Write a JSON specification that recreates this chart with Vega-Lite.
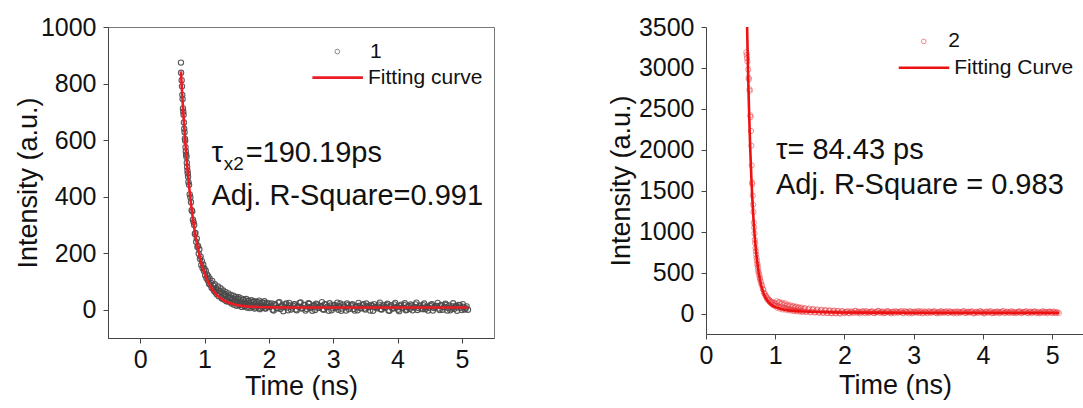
{
  "$schema": "https://vega.github.io/schema/vega-lite/v6.json",
  "padding": {"left": 13, "top": 14, "right": 0, "bottom": 0},
  "bounds": "flush",
  "spacing": 212,
  "config": {
    "font": "Liberation Sans",
    "view": {"stroke": "#777", "strokeWidth": 1},
    "axis": {
      "grid": false,
      "domainColor": "#444",
      "tickColor": "#444",
      "tickSize": 5,
      "labelFontSize": 25,
      "titleFontSize": 27,
      "labelColor": "#111",
      "titleColor": "#111",
      "titleFontWeight": "normal",
      "labelOverlap": false,
      "labelFlush": false
    }
  },
  "datasets": {
    "left_pts": [
      {"t":0.634,"v":874},{"t":0.636,"v":838},{"t":0.645,"v":812},{"t":0.65,"v":790},{"t":0.655,"v":760},{"t":0.66,"v":745},{"t":0.665,"v":712},{"t":0.67,"v":700},{"t":0.675,"v":690},{"t":0.68,"v":662},{"t":0.685,"v":640},{"t":0.69,"v":628},{"t":0.695,"v":605},{"t":0.7,"v":598},{"t":0.705,"v":575},{"t":0.71,"v":560},{"t":0.715,"v":548},{"t":0.72,"v":540},{"t":0.725,"v":520},{"t":0.73,"v":505},{"t":0.735,"v":492},{"t":0.74,"v":482},{"t":0.745,"v":470},{"t":0.75,"v":452},{"t":0.76,"v":442},{"t":0.77,"v":408},{"t":0.78,"v":398},{"t":0.79,"v":380},{"t":0.8,"v":352},{"t":0.81,"v":348},{"t":0.82,"v":318},{"t":0.83,"v":310},{"t":0.84,"v":300},{"t":0.85,"v":268},{"t":0.86,"v":272},{"t":0.87,"v":240},{"t":0.88,"v":252},{"t":0.89,"v":222},{"t":0.9,"v":226},{"t":0.91,"v":198},{"t":0.92,"v":214},{"t":0.93,"v":180},{"t":0.94,"v":188},{"t":0.95,"v":158},{"t":0.96,"v":172},{"t":0.97,"v":148},{"t":0.98,"v":160},{"t":0.99,"v":138},{"t":1.0,"v":145},
      {"t":1.01,"v":122},{"t":1.02,"v":138},{"t":1.03,"v":112},{"t":1.04,"v":125},{"t":1.05,"v":104},{"t":1.06,"v":118},{"t":1.07,"v":92},{"t":1.08,"v":110},{"t":1.09,"v":88},{"t":1.1,"v":96},{"t":1.11,"v":78},{"t":1.12,"v":102},{"t":1.13,"v":74},{"t":1.14,"v":85},{"t":1.15,"v":66},{"t":1.16,"v":90},{"t":1.17,"v":62},{"t":1.18,"v":76},{"t":1.19,"v":55},{"t":1.2,"v":70},{"t":1.22,"v":48},{"t":1.24,"v":66},{"t":1.26,"v":44},{"t":1.28,"v":60},{"t":1.3,"v":36},{"t":1.32,"v":55},{"t":1.34,"v":30},{"t":1.36,"v":48},{"t":1.38,"v":28},{"t":1.4,"v":44},{"t":1.42,"v":22},{"t":1.44,"v":40},{"t":1.46,"v":18},{"t":1.48,"v":36},{"t":1.5,"v":14},{"t":1.52,"v":38},{"t":1.54,"v":16},{"t":1.56,"v":30},{"t":1.58,"v":10},{"t":1.6,"v":34},{"t":1.62,"v":12},{"t":1.64,"v":26},{"t":1.66,"v":8},{"t":1.68,"v":30},{"t":1.7,"v":6},{"t":1.72,"v":24},{"t":1.74,"v":10},{"t":1.76,"v":28},{"t":1.78,"v":4},{"t":1.8,"v":22},{"t":1.82,"v":12},{"t":1.84,"v":26},{"t":1.86,"v":2},{"t":1.88,"v":20},{"t":1.9,"v":9},{"t":1.92,"v":24},{"t":1.94,"v":5},{"t":1.96,"v":18},{"t":1.98,"v":11},{"t":2.0,"v":22},
      {"t":2.03,"v":14},{"t":2.06,"v":0},{"t":2.09,"v":20},{"t":2.12,"v":6},{"t":2.15,"v":25},{"t":2.18,"v":3},{"t":2.21,"v":17},{"t":2.24,"v":9},{"t":2.27,"v":22},{"t":2.3,"v":-2},{"t":2.33,"v":15},{"t":2.36,"v":8},{"t":2.39,"v":19},{"t":2.42,"v":1},{"t":2.45,"v":12},{"t":2.48,"v":24},{"t":2.51,"v":4},{"t":2.54,"v":16},{"t":2.57,"v":-3},{"t":2.6,"v":11},{"t":2.63,"v":21},{"t":2.66,"v":6},{"t":2.69,"v":14},{"t":2.72,"v":-1},{"t":2.75,"v":18},{"t":2.78,"v":7},{"t":2.81,"v":13},{"t":2.84,"v":2},{"t":2.87,"v":20},{"t":2.9,"v":9},{"t":2.93,"v":-4},{"t":2.96,"v":15},{"t":2.99,"v":5},{"t":3.02,"v":17},{"t":3.05,"v":10},{"t":3.08,"v":0},{"t":3.11,"v":22},{"t":3.14,"v":4},{"t":3.17,"v":12},{"t":3.2,"v":-3},{"t":3.23,"v":16},{"t":3.26,"v":8},{"t":3.29,"v":19},{"t":3.32,"v":3},{"t":3.35,"v":11},{"t":3.38,"v":-2},{"t":3.41,"v":14},{"t":3.44,"v":6},{"t":3.47,"v":20},{"t":3.5,"v":1},{"t":3.53,"v":13},{"t":3.56,"v":9},{"t":3.59,"v":17},{"t":3.62,"v":-4},{"t":3.65,"v":10},{"t":3.68,"v":5},{"t":3.71,"v":18},{"t":3.74,"v":2},{"t":3.77,"v":12},{"t":3.8,"v":7},{"t":3.83,"v":16},{"t":3.86,"v":-3},{"t":3.89,"v":11},{"t":3.92,"v":4},{"t":3.95,"v":19},{"t":3.98,"v":8},{"t":4.01,"v":0},{"t":4.04,"v":14},{"t":4.07,"v":6},{"t":4.1,"v":17},{"t":4.13,"v":-2},{"t":4.16,"v":10},{"t":4.19,"v":3},{"t":4.22,"v":15},{"t":4.25,"v":8},{"t":4.28,"v":19},{"t":4.31,"v":-1},{"t":4.34,"v":12},{"t":4.37,"v":5},{"t":4.4,"v":16},{"t":4.43,"v":2},{"t":4.46,"v":11},{"t":4.49,"v":7},{"t":4.52,"v":18},{"t":4.55,"v":-3},{"t":4.58,"v":9},{"t":4.61,"v":13},{"t":4.64,"v":4},{"t":4.67,"v":15},{"t":4.7,"v":0},{"t":4.73,"v":10},{"t":4.76,"v":17},{"t":4.79,"v":6},{"t":4.82,"v":-2},{"t":4.85,"v":12},{"t":4.88,"v":3},{"t":4.91,"v":14},{"t":4.94,"v":8},{"t":4.97,"v":16},{"t":5.0,"v":-1},{"t":5.03,"v":10},{"t":5.06,"v":5},{"t":5.096,"v":0}
    ],
    "left_pts2": [
      {"t":1.21,"v":82},{"t":1.23,"v":58},{"t":1.25,"v":76},{"t":1.27,"v":40},{"t":1.29,"v":68},{"t":1.31,"v":52},{"t":1.33,"v":62},{"t":1.35,"v":34},{"t":1.37,"v":58},{"t":1.39,"v":40},{"t":1.41,"v":52},{"t":1.43,"v":28},{"t":1.45,"v":50},{"t":1.47,"v":30},{"t":1.49,"v":45},{"t":1.51,"v":24},{"t":1.53,"v":44},{"t":1.55,"v":20},{"t":1.57,"v":40},{"t":1.59,"v":22},{"t":1.61,"v":36},{"t":1.63,"v":15},{"t":1.65,"v":38},{"t":1.67,"v":18},{"t":1.69,"v":32},{"t":1.71,"v":14},{"t":1.73,"v":34},{"t":1.75,"v":16},{"t":1.77,"v":30},{"t":1.79,"v":8},{"t":1.81,"v":28},{"t":1.83,"v":14},{"t":1.85,"v":32},{"t":1.87,"v":6},{"t":1.89,"v":26},{"t":1.91,"v":12},{"t":1.93,"v":30},{"t":1.95,"v":4},{"t":1.97,"v":24},{"t":1.99,"v":10},
      {"t":2.015,"v":10},{"t":2.045,"v":22},{"t":2.075,"v":-3},{"t":2.105,"v":16},{"t":2.135,"v":5},{"t":2.165,"v":27},{"t":2.195,"v":12},{"t":2.225,"v":-5},{"t":2.255,"v":19},{"t":2.285,"v":8},{"t":2.315,"v":24},{"t":2.345,"v":1},{"t":2.375,"v":14},{"t":2.405,"v":20},{"t":2.435,"v":-2},{"t":2.465,"v":11},{"t":2.495,"v":26},{"t":2.525,"v":6},{"t":2.555,"v":17},{"t":2.585,"v":3},{"t":2.615,"v":23},{"t":2.645,"v":9},{"t":2.675,"v":-4},{"t":2.705,"v":15},{"t":2.735,"v":21},{"t":2.765,"v":7},{"t":2.795,"v":13},{"t":2.825,"v":27},{"t":2.855,"v":0},{"t":2.885,"v":18},
      {"t":2.915,"v":11},{"t":2.945,"v":23},{"t":2.975,"v":-2},{"t":3.005,"v":15},{"t":3.035,"v":6},{"t":3.065,"v":25},{"t":3.095,"v":13},{"t":3.125,"v":-4},{"t":3.155,"v":18},{"t":3.185,"v":9},{"t":3.215,"v":22},{"t":3.245,"v":2},{"t":3.275,"v":15},{"t":3.305,"v":19},{"t":3.335,"v":-3},{"t":3.365,"v":12},{"t":3.395,"v":24},{"t":3.425,"v":5},{"t":3.455,"v":16},{"t":3.485,"v":4},{"t":3.515,"v":22},{"t":3.545,"v":10},{"t":3.575,"v":-3},{"t":3.605,"v":14},{"t":3.635,"v":20},{"t":3.665,"v":8},{"t":3.695,"v":12},{"t":3.725,"v":25},{"t":3.755,"v":1},{"t":3.785,"v":17},
      {"t":3.815,"v":10},{"t":3.845,"v":21},{"t":3.875,"v":-4},{"t":3.905,"v":16},{"t":3.935,"v":5},{"t":3.965,"v":24},{"t":3.995,"v":11},{"t":4.025,"v":-5},{"t":4.055,"v":18},{"t":4.085,"v":7},{"t":4.115,"v":23},{"t":4.145,"v":0},{"t":4.175,"v":13},{"t":4.205,"v":19},{"t":4.235,"v":-2},{"t":4.265,"v":10},{"t":4.295,"v":25},{"t":4.325,"v":6},{"t":4.355,"v":15},{"t":4.385,"v":2},{"t":4.415,"v":22},{"t":4.445,"v":9},{"t":4.475,"v":-3},{"t":4.505,"v":14},{"t":4.535,"v":20},{"t":4.565,"v":6},{"t":4.595,"v":12},{"t":4.625,"v":24},{"t":4.655,"v":-1},{"t":4.685,"v":17},
      {"t":4.715,"v":9},{"t":4.745,"v":21},{"t":4.775,"v":-3},{"t":4.805,"v":15},{"t":4.835,"v":4},{"t":4.865,"v":23},{"t":4.895,"v":11},{"t":4.925,"v":-4},{"t":4.955,"v":17},{"t":4.985,"v":7},{"t":5.015,"v":20},{"t":5.045,"v":1},{"t":5.075,"v":12}
    ],
    "left_fit": [
      {"t":0.634,"v":843},{"t":0.65,"v":775.5},{"t":0.67,"v":699},{"t":0.69,"v":630},{"t":0.71,"v":568},{"t":0.73,"v":512},{"t":0.75,"v":461.5},{"t":0.77,"v":416},{"t":0.79,"v":375},{"t":0.81,"v":339},{"t":0.83,"v":306},{"t":0.85,"v":276},{"t":0.87,"v":249},{"t":0.89,"v":225},{"t":0.91,"v":203},{"t":0.93,"v":184},{"t":0.95,"v":166},{"t":0.97,"v":150},{"t":0.99,"v":136},{"t":1.02,"v":117.5},{"t":1.05,"v":101.5},{"t":1.08,"v":88},{"t":1.11,"v":76},{"t":1.15,"v":63},{"t":1.2,"v":50.4},{"t":1.25,"v":40.6},{"t":1.3,"v":33},{"t":1.35,"v":27.3},{"t":1.4,"v":22.8},{"t":1.5,"v":16.7},{"t":1.6,"v":13.2},{"t":1.7,"v":11.1},{"t":1.85,"v":9.4},{"t":2.0,"v":8.6},{"t":2.3,"v":8.1},{"t":2.7,"v":8},{"t":3.5,"v":8},{"t":4.5,"v":8},{"t":5.1,"v":8}
    ],
    "left_leg_pt": [{"t":3.065,"v":913}],
    "left_leg_line": [{"t":2.677,"t2":3.463,"v":821}],
    "left_leg_txt": [{"t":3.572,"v":913,"label":"1"},{"t":3.541,"v":821,"label":"Fitting curve"}],
    "left_ann": [{"t":1.107,"v":521,"label":"τ"},{"t":1.64,"v":521,"label":"=190.19ps"},{"t":1.107,"v":370,"label":"Adj. R-Square=0.991"}],
    "left_sub": [{"t":1.3,"v":494,"label":"x2"}],
    "right_pts": [
      {"t":0.582,"v":3190},{"t":0.588,"v":3160},{"t":0.592,"v":3120},{"t":0.598,"v":3080},{"t":0.61,"v":2980},{"t":0.615,"v":2880},{"t":0.62,"v":2860},{"t":0.628,"v":2740},{"t":0.632,"v":2720},{"t":0.64,"v":2420},{"t":0.645,"v":2400},{"t":0.65,"v":2230},{"t":0.655,"v":2050},{"t":0.66,"v":1810},{"t":0.665,"v":1600},{"t":0.67,"v":1580},{"t":0.675,"v":1440},{"t":0.68,"v":1330},{"t":0.685,"v":1240},{"t":0.69,"v":1110},{"t":0.695,"v":1050},{"t":0.7,"v":980},{"t":0.705,"v":900},{"t":0.71,"v":860},{"t":0.715,"v":800},{"t":0.72,"v":760},{"t":0.725,"v":720},{"t":0.73,"v":680},{"t":0.735,"v":650},{"t":0.74,"v":610},{"t":0.745,"v":590},{"t":0.75,"v":560},{"t":0.755,"v":520},{"t":0.76,"v":500},{"t":0.77,"v":470},{"t":0.775,"v":440},{"t":0.78,"v":420},{"t":0.79,"v":390},{"t":0.8,"v":360},{"t":0.81,"v":340},{"t":0.82,"v":300},{"t":0.83,"v":290},{"t":0.84,"v":250},{"t":0.85,"v":240},{"t":0.86,"v":215},{"t":0.87,"v":210},{"t":0.88,"v":180},{"t":0.89,"v":190},{"t":0.9,"v":160},{"t":0.91,"v":170},{"t":0.92,"v":140},{"t":0.93,"v":155},{"t":0.94,"v":125},{"t":0.95,"v":140},{"t":0.96,"v":110},{"t":0.97,"v":135},{"t":0.98,"v":100},{"t":0.99,"v":128},{"t":1.0,"v":95},
      {"t":1.02,"v":150},{"t":1.04,"v":88},{"t":1.06,"v":140},{"t":1.08,"v":78},{"t":1.1,"v":130},{"t":1.12,"v":70},{"t":1.14,"v":125},{"t":1.16,"v":66},{"t":1.18,"v":110},{"t":1.2,"v":55},{"t":1.22,"v":100},{"t":1.24,"v":50},{"t":1.26,"v":92},{"t":1.28,"v":45},{"t":1.3,"v":85},{"t":1.32,"v":40},{"t":1.34,"v":78},{"t":1.36,"v":36},{"t":1.38,"v":72},{"t":1.4,"v":30},{"t":1.43,"v":66},{"t":1.46,"v":26},{"t":1.49,"v":60},{"t":1.52,"v":22},{"t":1.55,"v":55},{"t":1.58,"v":18},{"t":1.61,"v":50},{"t":1.64,"v":14},{"t":1.67,"v":46},{"t":1.7,"v":10},{"t":1.73,"v":42},{"t":1.76,"v":8},{"t":1.79,"v":38},{"t":1.82,"v":4},{"t":1.85,"v":36},{"t":1.88,"v":2},{"t":1.91,"v":32},{"t":1.94,"v":0},{"t":1.97,"v":30},{"t":2.0,"v":5},
      {"t":2.03,"v":20},{"t":2.06,"v":6},{"t":2.09,"v":26},{"t":2.12,"v":12},{"t":2.15,"v":31},{"t":2.18,"v":9},{"t":2.21,"v":23},{"t":2.24,"v":15},{"t":2.27,"v":28},{"t":2.3,"v":4},{"t":2.33,"v":21},{"t":2.36,"v":14},{"t":2.39,"v":25},{"t":2.42,"v":7},{"t":2.45,"v":18},{"t":2.48,"v":30},{"t":2.51,"v":10},{"t":2.54,"v":22},{"t":2.57,"v":3},{"t":2.6,"v":17},{"t":2.63,"v":27},{"t":2.66,"v":12},{"t":2.69,"v":20},{"t":2.72,"v":5},{"t":2.75,"v":24},{"t":2.78,"v":13},{"t":2.81,"v":19},{"t":2.84,"v":8},{"t":2.87,"v":26},{"t":2.9,"v":15},{"t":2.93,"v":2},{"t":2.96,"v":21},{"t":2.99,"v":11},{"t":3.02,"v":23},{"t":3.05,"v":16},{"t":3.08,"v":6},{"t":3.11,"v":28},{"t":3.14,"v":10},{"t":3.17,"v":18},{"t":3.2,"v":3},{"t":3.23,"v":22},{"t":3.26,"v":14},{"t":3.29,"v":25},{"t":3.32,"v":9},{"t":3.35,"v":17},{"t":3.38,"v":4},{"t":3.41,"v":20},{"t":3.44,"v":12},{"t":3.47,"v":26},{"t":3.5,"v":7},{"t":3.53,"v":19},{"t":3.56,"v":15},{"t":3.59,"v":23},{"t":3.62,"v":2},{"t":3.65,"v":16},{"t":3.68,"v":11},{"t":3.71,"v":24},{"t":3.74,"v":8},{"t":3.77,"v":18},{"t":3.8,"v":13},{"t":3.83,"v":22},{"t":3.86,"v":3},{"t":3.89,"v":17},{"t":3.92,"v":10},{"t":3.95,"v":25},{"t":3.98,"v":14},{"t":4.01,"v":6},{"t":4.04,"v":20},{"t":4.07,"v":12},{"t":4.1,"v":23},{"t":4.13,"v":4},{"t":4.16,"v":16},{"t":4.19,"v":9},{"t":4.22,"v":21},{"t":4.25,"v":14},{"t":4.28,"v":25},{"t":4.31,"v":5},{"t":4.34,"v":18},{"t":4.37,"v":11},{"t":4.4,"v":22},{"t":4.43,"v":8},{"t":4.46,"v":17},{"t":4.49,"v":13},{"t":4.52,"v":24},{"t":4.55,"v":3},{"t":4.58,"v":15},{"t":4.61,"v":19},{"t":4.64,"v":10},{"t":4.67,"v":21},{"t":4.7,"v":6},{"t":4.73,"v":16},{"t":4.76,"v":23},{"t":4.79,"v":12},{"t":4.82,"v":4},{"t":4.85,"v":18},{"t":4.88,"v":9},{"t":4.91,"v":20},{"t":4.94,"v":14},{"t":4.97,"v":22},{"t":5.0,"v":5},{"t":5.03,"v":16},{"t":5.06,"v":11},{"t":5.096,"v":6}
    ],
    "right_pts2": [
      {"t":1.01,"v":120},{"t":1.03,"v":70},{"t":1.05,"v":135},{"t":1.07,"v":60},{"t":1.09,"v":118},{"t":1.11,"v":50},{"t":1.13,"v":105},{"t":1.15,"v":48},{"t":1.17,"v":96},{"t":1.19,"v":40},{"t":1.21,"v":88},{"t":1.23,"v":36},{"t":1.25,"v":80},{"t":1.27,"v":30},{"t":1.29,"v":74},{"t":1.31,"v":28},{"t":1.33,"v":66},{"t":1.35,"v":24},{"t":1.37,"v":60},{"t":1.39,"v":20},{"t":1.415,"v":55},{"t":1.445,"v":18},{"t":1.475,"v":50},{"t":1.505,"v":14},{"t":1.535,"v":46},{"t":1.565,"v":12},{"t":1.595,"v":42},{"t":1.625,"v":10},{"t":1.655,"v":38},{"t":1.685,"v":8},{"t":1.715,"v":36},{"t":1.745,"v":6},{"t":1.775,"v":34},{"t":1.805,"v":4},{"t":1.835,"v":30},{"t":1.865,"v":8},{"t":1.895,"v":28},{"t":1.925,"v":6},{"t":1.955,"v":26},{"t":1.985,"v":10},
      {"t":2.015,"v":16},{"t":2.045,"v":28},{"t":2.075,"v":3},{"t":2.105,"v":22},{"t":2.135,"v":11},{"t":2.165,"v":33},{"t":2.195,"v":18},{"t":2.225,"v":1},{"t":2.255,"v":25},{"t":2.285,"v":14},{"t":2.315,"v":30},{"t":2.345,"v":7},{"t":2.375,"v":20},{"t":2.405,"v":26},{"t":2.435,"v":4},{"t":2.465,"v":17},{"t":2.495,"v":32},{"t":2.525,"v":12},{"t":2.555,"v":23},{"t":2.585,"v":9},{"t":2.615,"v":29},{"t":2.645,"v":15},{"t":2.675,"v":2},{"t":2.705,"v":21},{"t":2.735,"v":27},{"t":2.765,"v":13},{"t":2.795,"v":19},{"t":2.825,"v":33},{"t":2.855,"v":6},{"t":2.885,"v":24},{"t":2.915,"v":17},{"t":2.945,"v":29},{"t":2.975,"v":4},{"t":3.005,"v":21},{"t":3.035,"v":12},{"t":3.065,"v":31},{"t":3.095,"v":19},{"t":3.125,"v":2},{"t":3.155,"v":24},{"t":3.185,"v":15},{"t":3.215,"v":28},{"t":3.245,"v":8},{"t":3.275,"v":21},{"t":3.305,"v":25},{"t":3.335,"v":3},{"t":3.365,"v":18},{"t":3.395,"v":30},{"t":3.425,"v":11},{"t":3.455,"v":22},{"t":3.485,"v":10},{"t":3.515,"v":28},{"t":3.545,"v":16},{"t":3.575,"v":3},{"t":3.605,"v":20},{"t":3.635,"v":26},{"t":3.665,"v":14},{"t":3.695,"v":18},{"t":3.725,"v":31},{"t":3.755,"v":7},{"t":3.785,"v":23},{"t":3.815,"v":16},{"t":3.845,"v":27},{"t":3.875,"v":2},{"t":3.905,"v":22},{"t":3.935,"v":11},{"t":3.965,"v":30},{"t":3.995,"v":17},{"t":4.025,"v":1},{"t":4.055,"v":24},{"t":4.085,"v":13},{"t":4.115,"v":29},{"t":4.145,"v":6},{"t":4.175,"v":19},{"t":4.205,"v":25},{"t":4.235,"v":4},{"t":4.265,"v":16},{"t":4.295,"v":31},{"t":4.325,"v":12},{"t":4.355,"v":21},{"t":4.385,"v":8},{"t":4.415,"v":28},{"t":4.445,"v":15},{"t":4.475,"v":3},{"t":4.505,"v":20},{"t":4.535,"v":26},{"t":4.565,"v":12},{"t":4.595,"v":18},{"t":4.625,"v":30},{"t":4.655,"v":5},{"t":4.685,"v":23},{"t":4.715,"v":15},{"t":4.745,"v":27},{"t":4.775,"v":3},{"t":4.805,"v":21},{"t":4.835,"v":10},{"t":4.865,"v":29},{"t":4.895,"v":17},{"t":4.925,"v":2},{"t":4.955,"v":23},{"t":4.985,"v":13},{"t":5.015,"v":26},{"t":5.045,"v":7},{"t":5.075,"v":18}
    ],
    "right_fit": [
      {"t":0.59,"v":3670},{"t":0.6,"v":3245},{"t":0.61,"v":2869},{"t":0.62,"v":2539},{"t":0.63,"v":2249},{"t":0.64,"v":1993},{"t":0.65,"v":1767},{"t":0.66,"v":1568},{"t":0.67,"v":1392},{"t":0.68,"v":1238},{"t":0.69,"v":1101},{"t":0.7,"v":981},{"t":0.72,"v":781},{"t":0.74,"v":626},{"t":0.76,"v":504},{"t":0.78,"v":409},{"t":0.8,"v":335},{"t":0.83,"v":252},{"t":0.86,"v":194},{"t":0.9,"v":142},{"t":0.95,"v":102},{"t":1.0,"v":78},{"t":1.1,"v":52},{"t":1.2,"v":39},{"t":1.35,"v":28},{"t":1.5,"v":22},{"t":1.75,"v":16},{"t":2.0,"v":13},{"t":2.5,"v":11},{"t":3.0,"v":10},{"t":4.0,"v":10},{"t":5.1,"v":10}
    ],
    "right_leg_pt": [{"t":3.145,"v":3324}],
    "right_leg_line": [{"t":2.784,"t2":3.514,"v":3002}],
    "right_leg_txt": [{"t":3.5,"v":3324,"label":"2"},{"t":3.586,"v":3002,"label":"Fitting Curve"}],
    "right_ann": [{"t":1.011,"v":1882,"label":"τ= 84.43 ps"},{"t":1.011,"v":1463,"label":"Adj. R-Square = 0.983"}]
  },
  "hconcat": [
    {
      "width": 386,
      "height": 311,
      "layer": [
        {
          "data": {"name": "left_pts"},
          "mark": {"type": "point", "shape": "circle", "filled": false, "stroke": "#4a4a4a", "strokeWidth": 1.1, "size": 28, "opacity": 0.9},
          "encoding": {
            "x": {"field": "t", "type": "quantitative", "scale": {"domain": [-0.5, 5.5], "nice": false, "zero": false},
                  "axis": {"title": "Time (ns)", "values": [0,0.5,1,1.5,2,2.5,3,3.5,4,4.5,5,5.5], "labelExpr": "datum.value % 1 === 0 ? format(datum.value, 'd') : ''", "labelPadding": 4, "titleBaseline": "alphabetic", "titleY": 56}},
            "y": {"field": "v", "type": "quantitative", "scale": {"domain": [-100, 1000], "nice": false, "zero": false},
                  "axis": {"title": "Intensity (a.u.)", "values": [0,100,200,300,400,500,600,700,800,900,1000], "labelExpr": "datum.value % 200 === 0 ? format(datum.value, 'd') : ''", "labelPadding": 7, "titleX": -66, "titleY": 155.5}}
          }
        },
        {
          "data": {"name": "left_pts2"},
          "mark": {"type": "point", "shape": "circle", "filled": false, "stroke": "#4a4a4a", "strokeWidth": 1.1, "size": 28, "opacity": 0.9},
          "encoding": {"x": {"field": "t", "type": "quantitative"}, "y": {"field": "v", "type": "quantitative"}}
        },
        {
          "data": {"name": "left_fit"},
          "mark": {"type": "line", "color": "#ec1c24", "strokeWidth": 2.6, "clip": true},
          "encoding": {"x": {"field": "t", "type": "quantitative"}, "y": {"field": "v", "type": "quantitative"}}
        },
        {
          "data": {"name": "left_leg_pt"},
          "mark": {"type": "point", "shape": "circle", "filled": false, "stroke": "#555", "strokeWidth": 1, "size": 22},
          "encoding": {"x": {"field": "t", "type": "quantitative"}, "y": {"field": "v", "type": "quantitative"}}
        },
        {
          "data": {"name": "left_leg_line"},
          "mark": {"type": "rule", "color": "#ec1c24", "strokeWidth": 2.6},
          "encoding": {"x": {"field": "t", "type": "quantitative"}, "x2": {"field": "t2"}, "y": {"field": "v", "type": "quantitative"}}
        },
        {
          "data": {"name": "left_leg_txt"},
          "mark": {"type": "text", "align": "left", "baseline": "middle", "fontSize": 21, "color": "#111"},
          "encoding": {"x": {"field": "t", "type": "quantitative"}, "y": {"field": "v", "type": "quantitative"}, "text": {"field": "label"}}
        },
        {
          "data": {"name": "left_ann"},
          "mark": {"type": "text", "align": "left", "baseline": "alphabetic", "fontSize": 29, "color": "#111"},
          "encoding": {"x": {"field": "t", "type": "quantitative"}, "y": {"field": "v", "type": "quantitative"}, "text": {"field": "label"}}
        },
        {
          "data": {"name": "left_sub"},
          "mark": {"type": "text", "align": "left", "baseline": "alphabetic", "fontSize": 19, "color": "#111"},
          "encoding": {"x": {"field": "t", "type": "quantitative"}, "y": {"field": "v", "type": "quantitative"}, "text": {"field": "label"}}
        }
      ]
    },
    {
      "width": 378,
      "height": 307,
      "view": {"stroke": null},
      "layer": [
        {
          "data": {"name": "right_pts"},
          "mark": {"type": "point", "shape": "circle", "filled": false, "stroke": "#e8353b", "strokeWidth": 1, "size": 28, "opacity": 0.55},
          "encoding": {
            "x": {"field": "t", "type": "quantitative", "scale": {"domain": [0, 5.46], "nice": false, "zero": false},
                  "axis": {"title": "Time (ns)", "values": [0,0.5,1,1.5,2,2.5,3,3.5,4,4.5,5], "labelExpr": "datum.value % 1 === 0 ? format(datum.value, 'd') : ''", "labelPadding": 4, "titleBaseline": "alphabetic", "titleY": 59.5}},
            "y": {"field": "v", "type": "quantitative", "scale": {"domain": [-250, 3500], "nice": false, "zero": false},
                  "axis": {"title": "Intensity (a.u.)", "values": [0,250,500,750,1000,1250,1500,1750,2000,2250,2500,2750,3000,3250,3500], "labelExpr": "datum.value % 500 === 0 ? format(datum.value, 'd') : ''", "labelPadding": 7, "titleX": -71, "titleY": 153.5}}
          }
        },
        {
          "data": {"name": "right_pts2"},
          "mark": {"type": "point", "shape": "circle", "filled": false, "stroke": "#e8353b", "strokeWidth": 1, "size": 28, "opacity": 0.55},
          "encoding": {"x": {"field": "t", "type": "quantitative"}, "y": {"field": "v", "type": "quantitative"}}
        },
        {
          "data": {"name": "right_fit"},
          "mark": {"type": "line", "color": "#ee1111", "strokeWidth": 2.6, "clip": true},
          "encoding": {"x": {"field": "t", "type": "quantitative"}, "y": {"field": "v", "type": "quantitative"}}
        },
        {
          "mark": {"type": "rule", "color": "#777", "strokeWidth": 1},
          "encoding": {"y": {"datum": 3500, "type": "quantitative"}}
        },
        {
          "data": {"name": "right_leg_pt"},
          "mark": {"type": "point", "shape": "circle", "filled": false, "stroke": "#e8353b", "strokeWidth": 1, "size": 22, "opacity": 0.6},
          "encoding": {"x": {"field": "t", "type": "quantitative"}, "y": {"field": "v", "type": "quantitative"}}
        },
        {
          "data": {"name": "right_leg_line"},
          "mark": {"type": "rule", "color": "#ee1111", "strokeWidth": 2.6},
          "encoding": {"x": {"field": "t", "type": "quantitative"}, "x2": {"field": "t2"}, "y": {"field": "v", "type": "quantitative"}}
        },
        {
          "data": {"name": "right_leg_txt"},
          "mark": {"type": "text", "align": "left", "baseline": "middle", "fontSize": 21, "color": "#111"},
          "encoding": {"x": {"field": "t", "type": "quantitative"}, "y": {"field": "v", "type": "quantitative"}, "text": {"field": "label"}}
        },
        {
          "data": {"name": "right_ann"},
          "mark": {"type": "text", "align": "left", "baseline": "alphabetic", "fontSize": 29, "color": "#111"},
          "encoding": {"x": {"field": "t", "type": "quantitative"}, "y": {"field": "v", "type": "quantitative"}, "text": {"field": "label"}}
        }
      ]
    }
  ]
}
